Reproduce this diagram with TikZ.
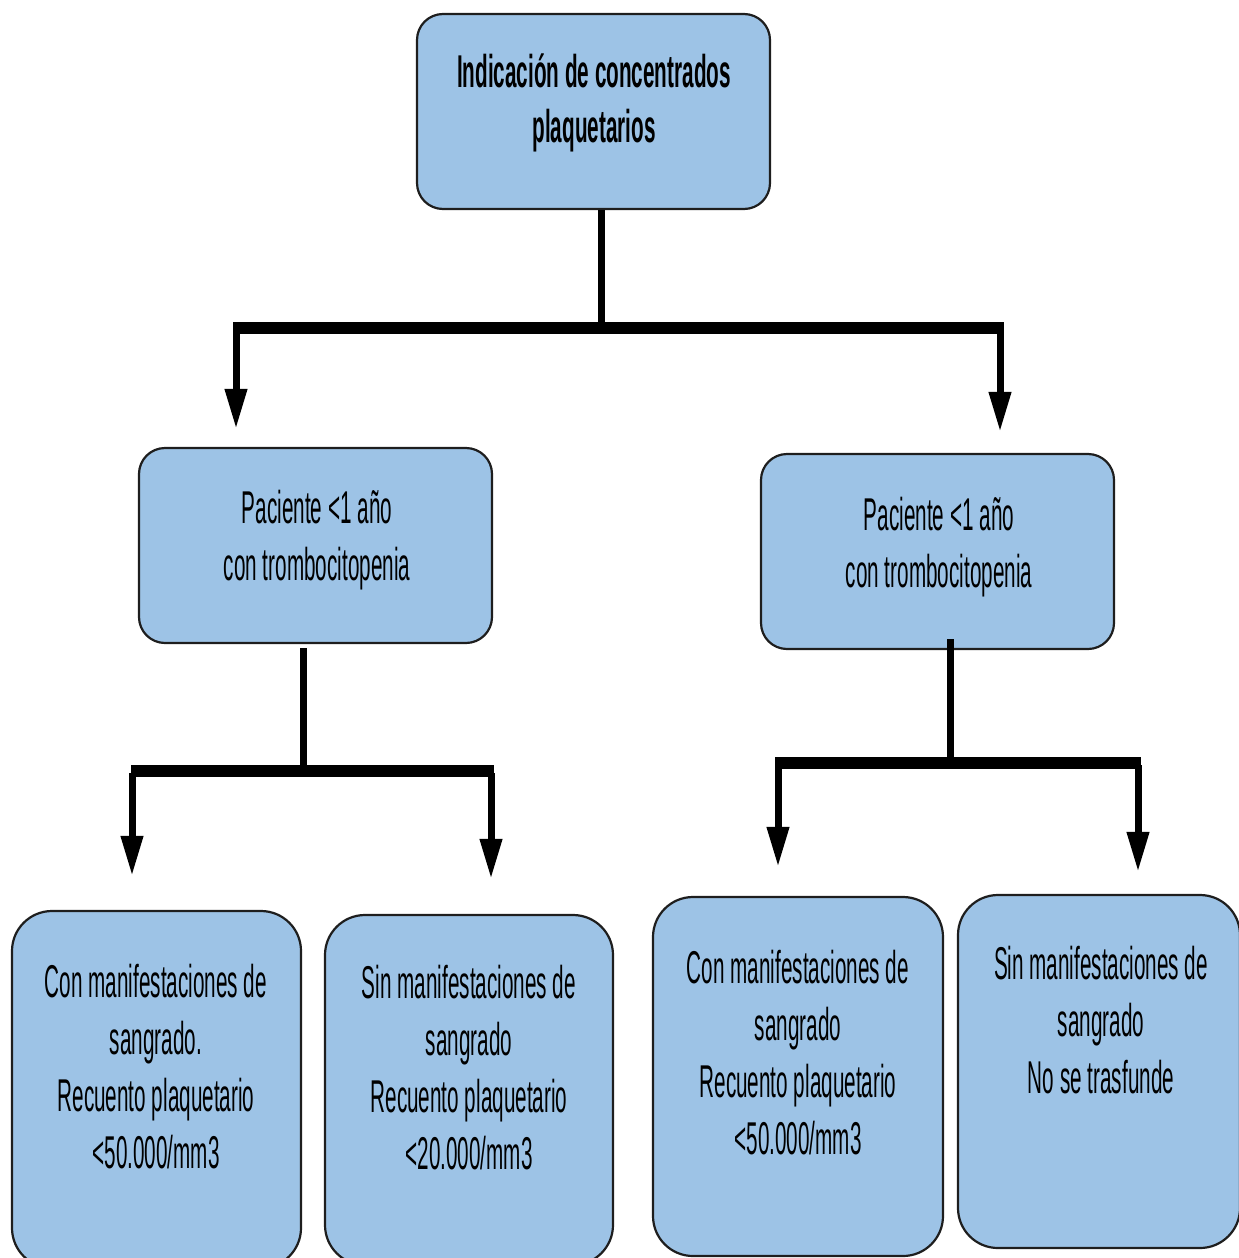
\documentclass[tikz,border=0pt]{standalone}
\usepackage{fontspec}
\setmainfont{Liberation Sans}[FakeStretch=0.45]
\usetikzlibrary{arrows.meta}
\definecolor{boxblue}{HTML}{9DC3E6}
\definecolor{edge}{HTML}{1E1E1E}
\newcommand\firstline{\rule{0pt}{40pt}}
\tikzset{
  box/.style={draw=edge, line width=2.2pt, fill=boxblue, inner sep=0pt},
  smallbox/.style={box, rounded corners=26pt},
  bigbox/.style={box, rounded corners=40pt},
  txt/.style={anchor=north, align=center, inner sep=0pt,
              font=\fontsize{46}{57}\selectfont},
  link/.style={line width=7pt},
  bar/.style={line width=12pt},
  arr/.style={line width=7pt, -{Triangle[width=21pt,length=40pt]}},
}
\begin{document}
\begin{tikzpicture}[x=1pt,y=-1pt]
\useasboundingbox (0,0) rectangle (1239,1258);
\clip (0,0) rectangle (1239,1258);

% boxes
\node[smallbox, minimum width=353pt, minimum height=195pt] (top)  at (593.5,111.5) {};
\node[smallbox, minimum width=353pt, minimum height=195pt] (lmid) at (315.5,545.5) {};
\node[smallbox, minimum width=353pt, minimum height=195pt] (rmid) at (937.5,551.5) {};
\node[bigbox, minimum width=289pt, minimum height=357pt] (b1) at (156.5,1089.5) {};
\node[bigbox, minimum width=288pt, minimum height=350pt] (b2) at (469,1090) {};
\node[bigbox, minimum width=290pt, minimum height=359pt] (b3) at (798,1076.5) {};
\node[bigbox, minimum width=282pt, minimum height=353pt] (b4) at (1099,1071.5) {};

% texts
\node[txt, font=\fontsize{46}{55}\selectfont\bfseries] (ttop) at (594,47)
  {\firstline Indicación de concentrados\\plaquetarios};
\node[txt] (tlmid) at (317,483) {\firstline Paciente <1 año\\con trombocitopenia};
\node[txt] (trmid) at (939,490) {\firstline Paciente <1 año\\con trombocitopenia};
\node[txt] (tb1) at (156,957)
  {\firstline Con manifestaciones de\\sangrado.\\Recuento plaquetario\\<50.000/mm3};
\node[txt] (tb2) at (469,958)
  {\firstline Sin manifestaciones de\\sangrado\\Recuento plaquetario\\<20.000/mm3};
\node[txt] (tb3) at (798,943)
  {\firstline Con manifestaciones de\\sangrado\\Recuento plaquetario\\<50.000/mm3};
\node[txt] (tb4) at (1101,939)
  {\firstline Sin manifestaciones\ de\\sangrado\\No se trasfunde};

% first split
\coordinate (j0) at (601,328);
\coordinate (j0l) at (233,328);
\coordinate (j0r) at (1004,328);
\coordinate (a0l) at (236,330);
\coordinate (a0r) at (1000,330);
\draw[link] (top.south -| j0) -- (j0);
\draw[bar] (j0l) -- (j0r);
\draw[arr, shorten >=18pt] (a0l) -- (a0l |- lmid.north);
\draw[arr, shorten >=21pt] (a0r) -- (a0r |- rmid.north);

% left split
\coordinate (j1) at (303,771);
\coordinate (j1l) at (131,771);
\coordinate (j1r) at (494,771);
\coordinate (a1l) at (132,773);
\coordinate (a1r) at (491,773);
\draw[link] ([yshift=-4pt]lmid.south -| j1) -- (j1);
\draw[bar] (j1l) -- (j1r);
\draw[arr, shorten >=34pt] (a1l) -- (a1l |- b1.north);
\draw[arr, shorten >=35pt] (a1r) -- (a1r |- b2.north);

% right split
\coordinate (j2) at (950,762.5);
\coordinate (j2l) at (775,762.5);
\coordinate (j2r) at (1141,762.5);
\coordinate (a2l) at (778,765);
\coordinate (a2r) at (1138,765);
\draw[link] ([yshift=11pt]rmid.south -| j2) -- (j2);
\draw[bar] (j2l) -- (j2r);
\draw[arr, shorten >=29pt] (a2l) -- (a2l |- b3.north);
\draw[arr, shorten >=22pt] (a2r) -- (a2r |- b4.north);
\end{tikzpicture}
\end{document}
